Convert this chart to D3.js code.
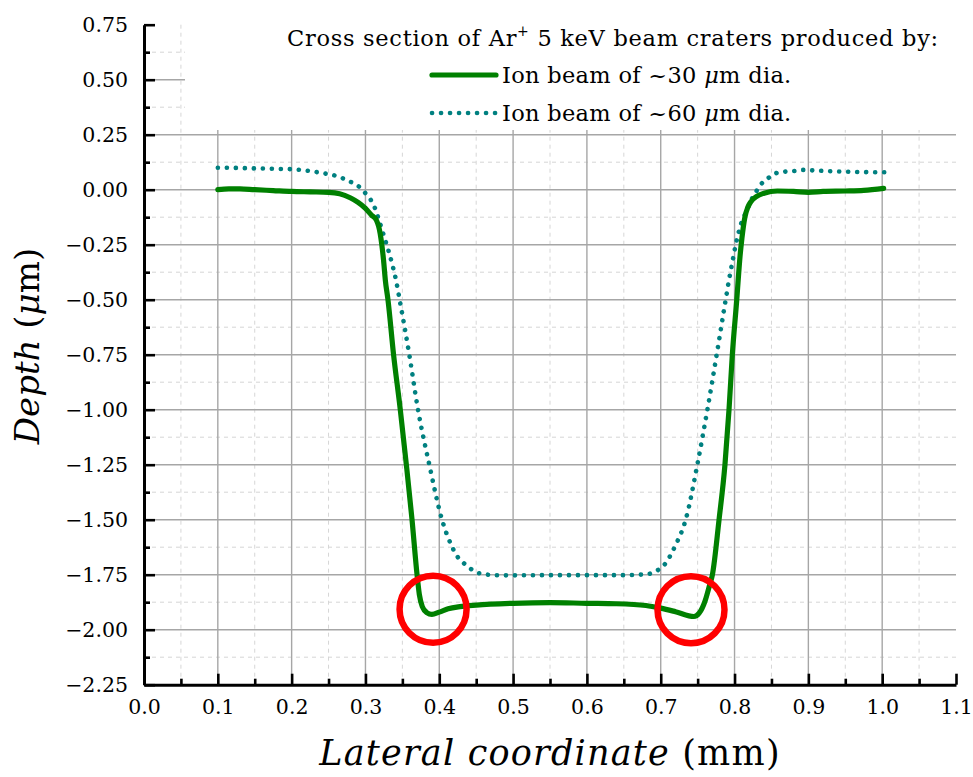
<!DOCTYPE html>
<html><head><meta charset="utf-8">
<script src="https://cdn.jsdelivr.net/npm/d3@7"></script>
<style>
body{margin:0;background:#fff}
svg{display:block}
</style>
</head><body>
<svg id="chart" width="973" height="777"></svg>
<script>
// ---- data (lateral coordinate in mm, depth in µm) ----
const beam30Lateral = [0.100,0.115,0.130,0.150,0.175,0.200,0.225,0.250,0.265,0.280,0.290,0.300,0.308,0.315,0.320,0.3245,0.3269,0.3305,0.3381,0.3472,0.3554,0.3631,0.3699,0.373,0.377,0.383,0.390,0.400,0.412,0.428,0.450,0.500,0.550,0.600,0.640,0.680,0.700,0.720,0.745,0.752,0.760,0.766,0.770,0.779,0.787,0.7925,0.797,0.803,0.8075,0.810,0.814,0.818,0.822,0.830,0.840,0.858,0.880,0.900,0.920,0.950,0.975,1.002];
const beam30Depth   = [0.000,0.004,0.004,0.000,-0.004,-0.008,-0.010,-0.012,-0.018,-0.038,-0.058,-0.085,-0.115,-0.140,-0.200,-0.320,-0.410,-0.500,-0.750,-1.000,-1.250,-1.500,-1.750,-1.840,-1.895,-1.922,-1.930,-1.920,-1.905,-1.895,-1.888,-1.880,-1.877,-1.880,-1.882,-1.890,-1.902,-1.918,-1.940,-1.925,-1.870,-1.800,-1.750,-1.500,-1.250,-1.000,-0.750,-0.500,-0.300,-0.220,-0.125,-0.080,-0.055,-0.030,-0.016,-0.006,-0.008,-0.012,-0.008,-0.006,-0.003,0.006];

const beam60Lateral = [0.100,0.125,0.150,0.175,0.200,0.220,0.239,0.261,0.282,0.292,0.300,0.307,0.313,0.319,0.325,0.331,0.336,0.3413,0.3463,0.3594,0.3712,0.3865,0.4037,0.4173,0.424,0.433,0.442,0.451,0.462,0.474,0.500,0.550,0.600,0.650,0.680,0.690,0.6966,0.7066,0.7135,0.7202,0.7338,0.7496,0.7632,0.7758,0.788,0.7925,0.797,0.802,0.809,0.817,0.822,0.829,0.836,0.847,0.856,0.868,0.881,0.892,0.910,0.930,0.960,1.004];
const beam60Depth   = [0.100,0.099,0.097,0.095,0.093,0.087,0.077,0.062,0.032,0.012,-0.016,-0.045,-0.085,-0.145,-0.210,-0.275,-0.335,-0.410,-0.500,-0.750,-1.000,-1.250,-1.500,-1.623,-1.665,-1.697,-1.722,-1.740,-1.748,-1.752,-1.753,-1.752,-1.752,-1.752,-1.748,-1.740,-1.728,-1.698,-1.660,-1.615,-1.500,-1.250,-1.000,-0.750,-0.500,-0.410,-0.330,-0.244,-0.153,-0.092,-0.051,-0.010,0.025,0.056,0.075,0.082,0.085,0.090,0.087,0.084,0.081,0.079];

// highlighted regions (circle centres, data units)
const markLateral = [0.3916, 0.741];
const markDepth   = [-1.907, -1.909];

// axes
const xMajorTicks = [0.0,0.1,0.2,0.3,0.4,0.5,0.6,0.7,0.8,0.9,1.0,1.1];
const xMinorTicks = [0.05,0.15,0.25,0.35,0.45,0.55,0.65,0.75,0.85,0.95,1.05];
const yMajorTicks = [0.75,0.50,0.25,0.00,-0.25,-0.50,-0.75,-1.00,-1.25,-1.50,-1.75,-2.00,-2.25];
const yMinorTicks = [0.625,0.375,0.125,-0.125,-0.375,-0.625,-0.875,-1.125,-1.375,-1.625,-1.875,-2.125];

const legendTitle = "Cross section of Ar";
const legendLabels = ["Ion beam of ~30 ", "Ion beam of ~60 "];

// ---- drawing ----
const FONT = "DejaVu Serif";
const svg = d3.select("#chart");
const W = 973, H = 777;
const x = d3.scaleLinear().domain([0, 1.1]).range([144, 956]);
const y = d3.scaleLinear().domain([-2.25, 0.75]).range([684.7, 24.7]);

const grid = svg.append("g");
grid.selectAll(".vmin").data(xMinorTicks.filter(v => v < 1.1)).join("line")
  .attr("x1", d => x(d)).attr("x2", d => x(d)).attr("y1", y(-2.25)).attr("y2", y(0.75))
  .attr("stroke", "#d6d6d6").attr("stroke-width", 1).attr("stroke-dasharray", "4,4");
grid.selectAll(".hmin").data(yMinorTicks).join("line")
  .attr("x1", x(0)).attr("x2", x(1.1)).attr("y1", d => y(d)).attr("y2", d => y(d))
  .attr("stroke", "#d6d6d6").attr("stroke-width", 1).attr("stroke-dasharray", "4,4");
grid.selectAll(".vmaj").data(xMajorTicks.filter(v => v > 0 && v < 1.1)).join("line")
  .attr("x1", d => x(d)).attr("x2", d => x(d)).attr("y1", y(-2.25)).attr("y2", y(0.75))
  .attr("stroke", "#a6a6a6").attr("stroke-width", 1.4);
grid.selectAll(".hmaj").data(yMajorTicks.filter(v => v > -2.25 && v < 0.75)).join("line")
  .attr("x1", x(0)).attr("x2", x(1.1)).attr("y1", d => y(d)).attr("y2", d => y(d))
  .attr("stroke", "#a6a6a6").attr("stroke-width", 1.4);

// legend background covering the grid
svg.append("rect").attr("x", 185).attr("y", 16).attr("width", W - 185).attr("height", 114).attr("fill", "#fff");

// curves
const line = d3.line().x(d => x(d[0])).y(d => y(d[1])).curve(d3.curveMonotoneX);
const s30 = beam30Lateral.map((v, i) => [v, beam30Depth[i]]);
const s60 = beam60Lateral.map((v, i) => [v, beam60Depth[i]]);

svg.append("path").datum(s60).attr("d", line).attr("fill", "none")
  .attr("stroke", "#008080").attr("stroke-width", 4.6).attr("stroke-linecap", "round")
  .attr("stroke-dasharray", "0.1,8.9");
svg.append("path").datum(s30).attr("d", line).attr("fill", "none")
  .attr("stroke", "#008000").attr("stroke-width", 5.2).attr("stroke-linejoin", "round").attr("stroke-linecap", "round");

// red circles
svg.selectAll(".mark").data(markLateral.map((v, i) => [v, markDepth[i]])).join("circle")
  .attr("cx", d => x(d[0])).attr("cy", d => y(d[1])).attr("r", 33.5)
  .attr("fill", "none").attr("stroke", "#ff0000").attr("stroke-width", 6.5);

// axes
const fmtX = d3.format(".1f");
const fmtY = v => d3.format(".2f")(v).replace("-", "\u2212");

const yAxis = svg.append("g").attr("transform", `translate(${x(0)},0)`)
  .call(d3.axisLeft(y).tickValues(yMajorTicks).tickFormat(fmtY).tickSizeInner(-11).tickSizeOuter(0).tickPadding(16));
const yMinor = svg.append("g").attr("transform", `translate(${x(0)},0)`)
  .call(d3.axisLeft(y).tickValues(yMinorTicks).tickFormat("").tickSizeInner(-6).tickSizeOuter(0));
const xAxis = svg.append("g").attr("transform", `translate(0,${y(-2.25)})`)
  .call(d3.axisBottom(x).tickValues(xMajorTicks).tickFormat(fmtX).tickSizeInner(-11).tickSizeOuter(0).tickPadding(15));
const xMinor = svg.append("g").attr("transform", `translate(0,${y(-2.25)})`)
  .call(d3.axisBottom(x).tickValues(xMinorTicks).tickFormat("").tickSizeInner(-6).tickSizeOuter(0));

[yAxis, yMinor, xAxis, xMinor].forEach(g => {
  g.attr("font-family", FONT).attr("font-size", 20.5);
  g.select(".domain").attr("stroke", "#000").attr("stroke-width", 3);
  g.selectAll(".tick line").attr("stroke", "#000").attr("stroke-width", 2.6);
  g.selectAll(".tick text").attr("fill", "#000");
});
yMinor.select(".domain").remove();
xMinor.select(".domain").remove();

// axis titles
const xt = svg.append("text").attr("x", 550).attr("y", 765).attr("text-anchor", "middle")
  .attr("font-family", FONT).attr("font-size", 35).attr("letter-spacing", 1.2);
xt.append("tspan").attr("font-style", "italic").text("Lateral coordinate");
xt.append("tspan").text(" (mm)");

const yt = svg.append("text").attr("transform", "translate(39,346) rotate(-90)").attr("text-anchor", "middle")
  .attr("font-family", FONT).attr("font-size", 34);
yt.append("tspan").attr("font-style", "italic").text("Depth");
yt.append("tspan").text(" (");
yt.append("tspan").attr("font-style", "italic").text("\u03bc");
yt.append("tspan").text("m)");

// legend
const lt = svg.append("text").attr("x", 613).attr("y", 46).attr("text-anchor", "middle")
  .attr("font-family", FONT).attr("font-size", 22.5).attr("letter-spacing", 0.7);
lt.append("tspan").text(legendTitle);
lt.append("tspan").attr("font-size", 14).attr("dy", -10).text("+");
lt.append("tspan").attr("dy", 10).text(" 5 keV beam craters produced by:");

const legendRows = [
  {label: legendLabels[0], y: 75, color: "#008000", dash: null, w: 5.2},
  {label: legendLabels[1], y: 113, color: "#008080", dash: "0.1,8.9", w: 4.6}
];
legendRows.forEach(r => {
  const ln = svg.append("line").attr("x1", 432).attr("x2", 496).attr("y1", r.y).attr("y2", r.y)
    .attr("stroke", r.color).attr("stroke-width", r.w).attr("stroke-linecap", "round");
  if (r.dash) ln.attr("stroke-dasharray", r.dash);
  const t = svg.append("text").attr("x", 502).attr("y", r.y + 8).attr("font-family", FONT)
    .attr("font-size", 22.5).attr("letter-spacing", 0.3);
  t.append("tspan").text(r.label);
  t.append("tspan").attr("font-style", "italic").text("\u03bc");
  t.append("tspan").text("m dia.");
});
</script>
</body></html>
